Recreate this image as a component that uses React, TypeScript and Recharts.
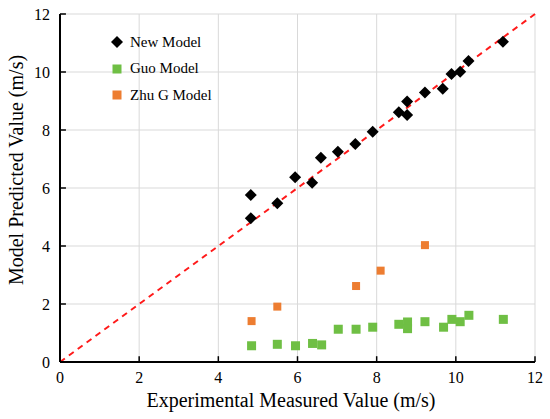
import React from 'react';
import {
  ScatterChart,
  Scatter,
  XAxis,
  YAxis,
  CartesianGrid,
  ReferenceLine,
  Legend,
} from 'recharts';

// measured (x) vs predicted (y), m/s
const newModelX = [4.82, 4.82, 5.49, 5.94, 6.37, 6.59, 7.02, 7.46, 7.9, 8.56, 8.77, 8.77, 9.22, 9.67, 9.89, 10.11, 10.32, 11.19];
const newModelY = [5.76, 4.96, 5.47, 6.37, 6.18, 7.04, 7.25, 7.52, 7.94, 8.61, 8.98, 8.52, 9.29, 9.42, 9.93, 10.01, 10.38, 11.04];

const guoModelX = [4.84, 5.49, 5.95, 6.38, 6.61, 7.03, 7.48, 7.9, 8.56, 8.78, 8.78, 9.22, 9.69, 9.9, 10.11, 10.33, 11.2];
const guoModelY = [0.56, 0.61, 0.56, 0.64, 0.59, 1.13, 1.13, 1.2, 1.3, 1.38, 1.15, 1.39, 1.2, 1.47, 1.39, 1.61, 1.47];

const zhuModelX = [4.84, 5.49, 7.48, 8.1, 9.22];
const zhuModelY = [1.41, 1.91, 2.62, 3.15, 4.03];

const axisTicks = [0, 2, 4, 6, 8, 10, 12];

const toPoints = (xs: number[], ys: number[]) => xs.map((x, i) => ({ x, y: ys[i] }));

const newModel = toPoints(newModelX, newModelY);
const guoModel = toPoints(guoModelX, guoModelY);
const zhuModel = toPoints(zhuModelX, zhuModelY);

const FONT = '"Liberation Serif", "Times New Roman", serif';
const GREEN = '#6fbf44';
const ORANGE = '#ed7d31';

const Diamond = ({ cx, cy }: any) => (
  <path d={`M${cx},${cy - 6}L${cx + 6},${cy}L${cx},${cy + 6}L${cx - 6},${cy}Z`} fill="#000" />
);

const Square = (color: string, half: number) => ({ cx, cy }: any) => (
  <rect x={cx - half} y={cy - half} width={half * 2} height={half * 2} fill={color} />
);

const legendItems = [
  { name: 'New Model', icon: 'diamond', color: '#000' },
  { name: 'Guo Model', icon: 'square', color: GREEN },
  { name: 'Zhu G Model', icon: 'square', color: ORANGE },
];

const LegendBox = () => (
  <div style={{ fontFamily: FONT, fontSize: 15, color: '#000' }}>
    {legendItems.map((it) => (
      <div key={it.name} style={{ display: 'flex', alignItems: 'center', height: 26.5 }}>
        <svg width={14} height={14} style={{ marginRight: 6 }}>
          {it.icon === 'diamond' ? (
            <path d="M7,1L13,7L7,13L1,7Z" fill={it.color} />
          ) : (
            <rect x={2.5} y={2.5} width={9} height={9} fill={it.color} />
          )}
        </svg>
        <span>{it.name}</span>
      </div>
    ))}
  </div>
);

const App: React.FC = () => {
  return (
    <div style={{ position: 'absolute', left: 0, top: 0, background: '#fff' }}>
      <ScatterChart width={550} height={419} margin={{ top: 14, right: 15, left: 20, bottom: 27 }}>
        <CartesianGrid stroke="#d9d9d9" strokeWidth={1} />
        <XAxis
          type="number"
          dataKey="x"
          domain={[0, 12]}
          ticks={axisTicks}
          height={30}
          tickLine={false}
          tickSize={6}
          tickMargin={4}
          axisLine={{ stroke: '#000', strokeWidth: 2 }}
          tick={{ fill: '#000', fontSize: 16, fontFamily: FONT }}
          label={{
            content: () => (
              <text x={291} y={407} textAnchor="middle" fontSize={20} fontFamily={FONT} fill="#000">
                Experimental Measured Value (m/s)
              </text>
            ),
          }}
        />
        <YAxis
          type="number"
          dataKey="y"
          domain={[0, 12]}
          ticks={axisTicks}
          width={40}
          tickLine={false}
          tickSize={6}
          tickMargin={4}
          axisLine={{ stroke: '#000', strokeWidth: 2 }}
          tick={{ fill: '#000', fontSize: 16, fontFamily: FONT }}
          label={{
            content: () => (
              <text
                x={16}
                y={170}
                transform="rotate(-90 16 170)"
                textAnchor="middle"
                dominantBaseline="central"
                fontSize={20}
                fontFamily={FONT}
                fill="#000"
              >
                Model Predicted Value (m/s)
              </text>
            ),
          }}
        />
        {axisTicks.slice(1).map((t) => (
          <ReferenceLine key={`xt${t}`} segment={[{ x: t, y: 0 }, { x: t, y: 0.2 }]} stroke="#000" strokeWidth={1.5} />
        ))}
        {axisTicks.slice(1).map((t) => (
          <ReferenceLine key={`yt${t}`} segment={[{ x: 0, y: t }, { x: 0.15, y: t }]} stroke="#000" strokeWidth={1.5} />
        ))}
        <ReferenceLine
          segment={[{ x: 0, y: 0 }, { x: 12, y: 12 }]}
          stroke="#ff1a1a"
          strokeWidth={2}
          strokeDasharray="6 5"
        />
        <Legend
          layout="vertical"
          align="center"
          verticalAlign="middle"
          content={<LegendBox />}
          wrapperStyle={{ position: 'absolute', left: 110, top: 29, width: 'auto' }}
        />
        <Scatter name="Guo Model" data={guoModel} fill={GREEN} shape={Square(GREEN, 4.5)} isAnimationActive={false} />
        <Scatter name="Zhu G Model" data={zhuModel} fill={ORANGE} shape={Square(ORANGE, 4)} isAnimationActive={false} />
        <Scatter name="New Model" data={newModel} fill="#000" shape={Diamond} isAnimationActive={false} />
      </ScatterChart>
    </div>
  );
};

export default App;
